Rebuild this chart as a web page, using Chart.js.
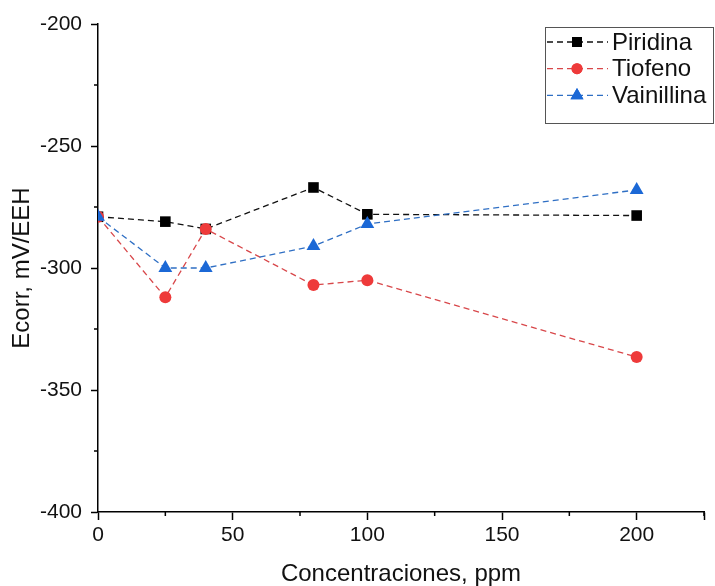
<!DOCTYPE html>
<html>
<head>
<meta charset="utf-8">
<title>Ecorr vs concentración</title>
<script src="https://cdn.jsdelivr.net/npm/chart.js@4.4.0/dist/chart.umd.min.js"></script>
<style>
  html, body { margin: 0; padding: 0; background: #fff; }
  #wrap { width: 715px; height: 586px; }
</style>
</head>
<body>
<div id="wrap"><canvas id="ecorrChart" width="715" height="586"></canvas></div>
<script>
// concentraciones (ppm) y potencial de corrosión (mV/EEH)
const concentraciones = [0, 25, 40, 80, 100, 200];
const piridina = [-279, -281, -284, -267, -278, -278.5];
const tiofeno = [-279, -312, -284, -307, -305, -336.5];
const vainillina = [-279, -300, -300, -291, -282, -268];

const xMinorTicks = [25, 75, 125, 175, 225];
const yMinorTicks = [-225, -275, -325, -375];

const FONT = "'Liberation Sans', Arial, sans-serif";

function points(ys) {
  return concentraciones.map((x, i) => ({ x: x, y: ys[i] }));
}

// short minor ticks on both axes
const minorTicks = {
  id: "minorTicks",
  afterDraw(chart) {
    const ctx = chart.ctx;
    const xs = chart.scales.x;
    const ys = chart.scales.y;
    ctx.save();
    ctx.strokeStyle = "#000";
    ctx.lineWidth = 1.5;
    ctx.beginPath();
    xMinorTicks.forEach((v) => {
      const px = xs.getPixelForValue(v);
      ctx.moveTo(px, xs.top);
      ctx.lineTo(px, xs.top + 4);
    });
    yMinorTicks.forEach((v) => {
      const py = ys.getPixelForValue(v);
      ctx.moveTo(ys.right, py);
      ctx.lineTo(ys.right - 4, py);
    });
    ctx.stroke();
    ctx.restore();
  },
};

// boxed legend in the upper right corner: dash - marker - dash, then the name
const boxLegend = {
  id: "boxLegend",
  afterDraw(chart) {
    const ctx = chart.ctx;
    const area = chart.chartArea;
    const left = area.right - 159;
    const top = area.top + 3;
    const rowH = 26.7;
    ctx.save();
    ctx.fillStyle = "#fff";
    ctx.fillRect(left, top, 168, 96);
    ctx.strokeStyle = "#555";
    ctx.lineWidth = 1;
    ctx.strokeRect(left + 0.5, top + 0.5, 168, 96);

    chart.data.datasets.forEach((ds, i) => {
      const y = top + 15 + i * rowH;
      ctx.save();
      ctx.strokeStyle = ds.borderColor;
      ctx.lineWidth = ds.borderWidth;
      ctx.setLineDash(ds.borderDash);
      ctx.beginPath();
      ctx.moveTo(left + 2, y);
      ctx.lineTo(left + 63, y);
      ctx.stroke();
      ctx.restore();

      ctx.fillStyle = ds.pointBackgroundColor;
      Chart.helpers.drawPoint(ctx, {
        pointStyle: ds.pointStyle,
        radius: ds.pointRadius - 0.5,
        borderWidth: 0,
        rotation: 0,
      }, left + 32, y);
      ctx.fill();

      ctx.fillStyle = "#111";
      ctx.font = "24px " + FONT;
      ctx.textBaseline = "middle";
      ctx.textAlign = "left";
      ctx.fillText(ds.label, left + 67, y + 1);
    });
    ctx.restore();
  },
};

function ecorrChart() {
  const data = {
    datasets: [
      {
        label: "Piridina",
        data: points(piridina),
        borderColor: "#111",
        pointBackgroundColor: "#000",
        pointBorderColor: "#000",
        pointStyle: "rect",
        pointRadius: 7.5,
        order: 3,
      },
      {
        label: "Tiofeno",
        data: points(tiofeno),
        borderColor: "#d8474a",
        pointBackgroundColor: "#ee3a3a",
        pointBorderColor: "#ee3a3a",
        pointStyle: "circle",
        pointRadius: 6,
        order: 2,
      },
      {
        label: "Vainillina",
        data: points(vainillina),
        borderColor: "#2f6fc4",
        pointBackgroundColor: "#1b68d6",
        pointBorderColor: "#1b68d6",
        pointStyle: "triangle",
        pointRadius: 8,
        order: 1,
      },
    ],
  };
  data.datasets.forEach((ds) => {
    ds.borderWidth = 1.3;
    ds.borderDash = [6, 4];
    ds.pointBorderWidth = 0;
    ds.fill = false;
    ds.tension = 0;
  });

  const tickFont = { family: FONT, size: 21 };
  const titleFont = { family: FONT, size: 24, lineHeight: 1 };

  const config = {
    type: "line",
    data: data,
    options: {
      responsive: false,
      animation: false,
      layout: { padding: { top: 24, right: 11 } },
      plugins: {
        legend: { display: false },
        tooltip: { enabled: false },
      },
      scales: {
        x: {
          type: "linear",
          min: 0,
          max: 225,
          grid: {
            drawOnChartArea: false,
            tickLength: 8,
            tickWidth: 1.5,
            tickColor: "#000",
          },
          border: { color: "#000", width: 1.5 },
          ticks: {
            stepSize: 50,
            color: "#111",
            font: tickFont,
            padding: 3,
            maxRotation: 0,
            callback: (v) => (v % 50 === 0 && v <= 200 ? v : ""),
          },
          title: {
            display: true,
            text: "Concentraciones, ppm",
            color: "#111",
            font: titleFont,
            padding: { top: 0, bottom: 0 },
          },
          afterFit(scale) {
            scale.height = 74;
          },
        },
        y: {
          min: -400,
          max: -200,
          grid: {
            drawOnChartArea: false,
            tickLength: 7,
            tickWidth: 1.5,
            tickColor: "#000",
          },
          border: { color: "#000", width: 1.5 },
          ticks: {
            stepSize: 50,
            color: "#111",
            font: tickFont,
            padding: 9,
          },
          title: {
            display: true,
            text: "Ecorr, mV/EEH",
            color: "#111",
            font: titleFont,
            padding: { top: 10, bottom: 0 },
          },
          afterFit(scale) {
            scale.width = 98;
          },
        },
      },
    },
    plugins: [minorTicks, boxLegend],
  };

  const ctx = document.getElementById("ecorrChart").getContext("2d");
  new Chart(ctx, config);
}
ecorrChart();
</script>
</body>
</html>
